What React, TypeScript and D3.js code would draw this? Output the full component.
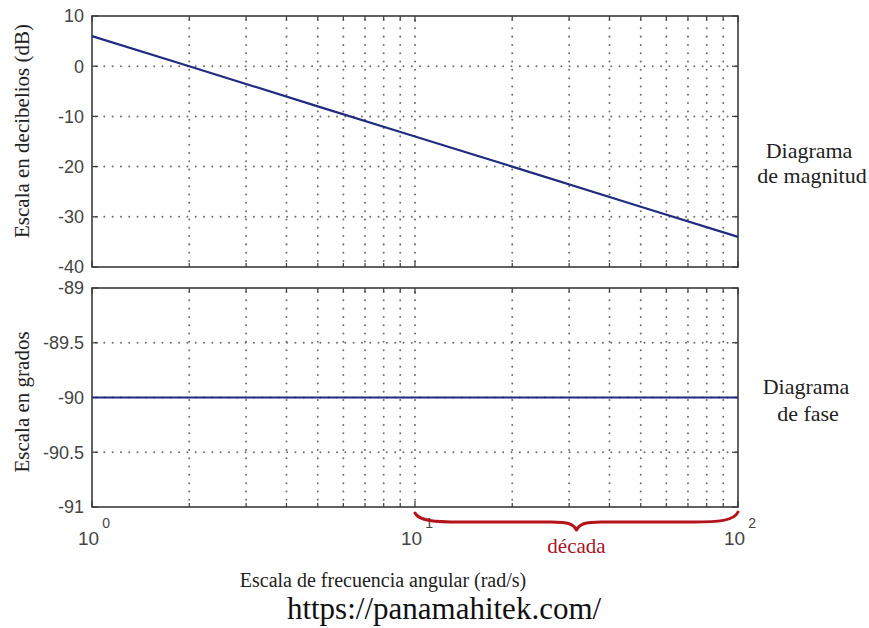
import React from "react";
import * as d3 from "d3";

const freq = [1, 2, 5, 10, 20, 50, 100];
const magnitudeDb = [6, 0, -8, -14, -20, -28, -34];
const phaseDeg = [-90, -90, -90, -90, -90, -90, -90];
const magTicks = [10, 0, -10, -20, -30, -40];
const magTickLabels = ["10", "0", "-10", "-20", "-30", "-40"];
const phaseTicks = [-89, -89.5, -90, -90.5, -91];
const phaseTickLabels = ["-89", "-89.5", "-90", "-90.5", "-91"];
const decades = [1, 10, 100];
const decadeExps = ["0", "1", "2"];

const W = 869;
const H = 628;
const X0 = 92;
const X1 = 738;
const SERIF = "'Liberation Serif', 'Times New Roman', Times, serif";
const SANS = "'Liberation Sans', Arial, sans-serif";

export default function App() {
  const x = d3.scaleLog().domain([1, 100]).range([X0, X1]);
  const yMag = d3.scaleLinear().domain([-40, 10]).range([267, 16]);
  const yPh = d3.scaleLinear().domain([-91, -89]).range([507, 288]);

  const minor: number[] = [];
  for (let d = 1; d < 100; d *= 10) for (let k = 1; k < 10; k++) minor.push(d * k);
  minor.push(100);
  const isMajor = (v: number) => decades.includes(v);

  const magLine = d3
    .line<number>()
    .x((_, i) => x(freq[i]))
    .y((v) => yMag(v));
  const phLine = d3
    .line<number>()
    .x((_, i) => x(freq[i]))
    .y((v) => yPh(v));

  const gridStyle = {
    stroke: "#6e6e6e",
    strokeWidth: 2,
    strokeDasharray: "0.01,8.3",
    strokeLinecap: "round" as const,
  };
  const frameColor = "#3a3a3a";
  const tickColor = "#444";

  const panel = (
    y: d3.ScaleLinear<number, number>,
    ticks: number[],
    labels: string[],
    key: string
  ) => {
    const [yb, yt] = y.range();
    return (
      <g key={key}>
        {ticks.slice(1, -1).map((t) => (
          <line key={"h" + t} x1={X0 + 4} x2={X1} y1={y(t)} y2={y(t)} style={gridStyle} />
        ))}
        {minor
          .filter((v) => v !== 1 && v !== 100)
          .map((v) => (
            <line key={"v" + v} x1={x(v)} x2={x(v)} y1={yt + 4} y2={yb} style={gridStyle} />
          ))}
        {minor.map((v) => {
          const len = isMajor(v) ? 6 : 4;
          return (
            <g key={"t" + v} stroke={frameColor} strokeWidth={1.2}>
              <line x1={x(v)} x2={x(v)} y1={yb} y2={yb - len} />
              <line x1={x(v)} x2={x(v)} y1={yt} y2={yt + len} />
            </g>
          );
        })}
        {ticks.map((t) => (
          <g key={"yt" + t} stroke={frameColor} strokeWidth={1.2}>
            <line x1={X0} x2={X0 + 6} y1={y(t)} y2={y(t)} />
            <line x1={X1} x2={X1 - 6} y1={y(t)} y2={y(t)} />
          </g>
        ))}
        {ticks.map((t, i) => (
          <text
            key={"yl" + t}
            x={84}
            y={y(t)}
            dy="0.36em"
            textAnchor="end"
            fontFamily={SANS}
            fontSize={18}
            fill={tickColor}
          >
            {labels[i]}
          </text>
        ))}
        <rect x={X0} y={yt} width={X1 - X0} height={yb - yt} fill="none" stroke={frameColor} strokeWidth={1.6} />
      </g>
    );
  };

  const bx0 = x(10);
  const bx1 = x(100);
  const bm = (bx0 + bx1) / 2;
  const brace = `M${bx0},513 C${bx0 + 4},521 ${bx0 + 20},522 ${bx0 + 45},522 L${bm - 25},522 C${bm - 8},522 ${bm - 3},524 ${bm},530 C${bm + 3},524 ${bm + 8},522 ${bm + 25},522 L${bx1 - 45},522 C${bx1 - 20},522 ${bx1 - 4},521 ${bx1},512`;

  return (
    <svg width={W} height={H} style={{ position: "absolute", left: 0, top: 0, background: "#fff" }}>
      <rect width={W} height={H} fill="#fff" />
      {panel(yMag, magTicks, magTickLabels, "mag")}
      {panel(yPh, phaseTicks, phaseTickLabels, "ph")}
      <path d={magLine(magnitudeDb) || ""} fill="none" stroke="#1f2c80" strokeWidth={2.2} />
      <path d={phLine(phaseDeg) || ""} fill="none" stroke="#1f2c80" strokeWidth={2.2} />

      {decades.map((d, i) => (
        <text key={"xl" + d} x={x(d) - 14} y={545} fontFamily={SANS} fontSize={19} fill={tickColor}>
          10
          <tspan dx={3} dy={-17} fontSize={14}>
            {decadeExps[i]}
          </tspan>
        </text>
      ))}

      <path d={brace} fill="none" stroke="#b3141c" strokeWidth={3} strokeLinecap="round" strokeLinejoin="round" />
      <text x={bm} y={553} textAnchor="middle" fontFamily={SERIF} fontSize={21} fill="#a8141c">
        década
      </text>

      <text transform="translate(29,131) rotate(-90)" textAnchor="middle" fontFamily={SERIF} fontSize={21} fill="#222">
        Escala en decibelios (dB)
      </text>
      <text transform="translate(29,402) rotate(-90)" textAnchor="middle" fontFamily={SERIF} fontSize={21} fill="#222">
        Escala en grados
      </text>

      <g fontFamily={SERIF} fontSize={22} fill="#222" textAnchor="middle">
        <text x={809} y={158}>Diagrama</text>
        <text x={812} y={183}>de magnitud</text>
        <text x={806} y={394}>Diagrama</text>
        <text x={808} y={421}>de fase</text>
      </g>

      <text x={383} y={587} textAnchor="middle" fontFamily={SERIF} fontSize={20} fill="#222">
        Escala de frecuencia angular (rad/s)
      </text>
      <text x={444} y={619} textAnchor="middle" fontFamily={SERIF} fontSize={31} fill="#111">
        https://panamahitek.com/
      </text>
    </svg>
  );
}
